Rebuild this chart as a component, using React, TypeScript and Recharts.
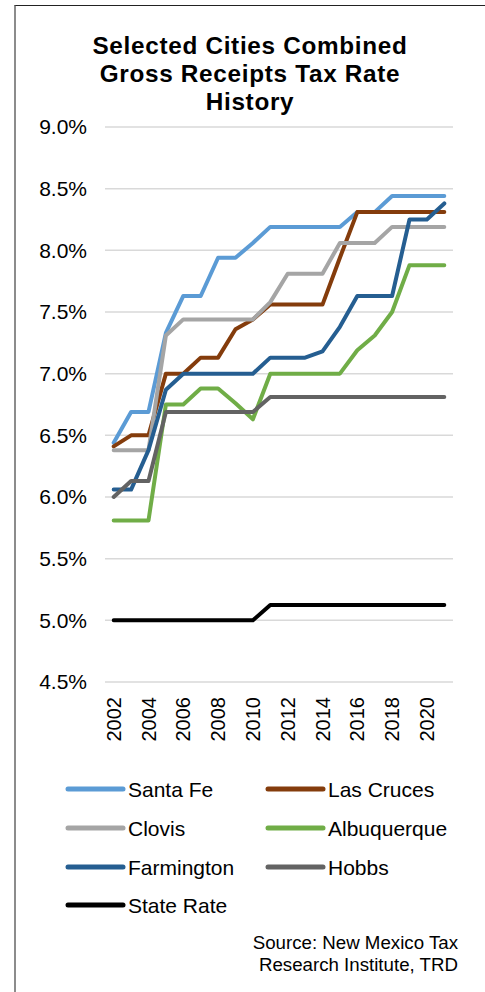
import React from 'react';
import { LineChart, Line, XAxis, YAxis, CartesianGrid } from 'recharts';

const years = [
    '2002', '2003', '2004', '2005', '2006', '2007', '2008', '2009', '2010', '2011',
    '2012', '2013', '2014', '2015', '2016', '2017', '2018', '2019', '2020', '2021',
];

const santaFe = [6.44, 6.69, 6.69, 7.33, 7.63, 7.63, 7.94, 7.94, 8.06, 8.19, 8.19, 8.19, 8.19, 8.19, 8.31, 8.31, 8.44, 8.44, 8.44, 8.44];
const lasCruces = [6.41, 6.5, 6.5, 7.0, 7.0, 7.13, 7.13, 7.36, 7.44, 7.56, 7.56, 7.56, 7.56, 7.94, 8.31, 8.31, 8.31, 8.31, 8.31, 8.31];
const clovis = [6.38, 6.38, 6.38, 7.31, 7.44, 7.44, 7.44, 7.44, 7.44, 7.58, 7.81, 7.81, 7.81, 8.06, 8.06, 8.06, 8.19, 8.19, 8.19, 8.19];
const albuquerque = [5.81, 5.81, 5.81, 6.75, 6.75, 6.88, 6.88, 6.76, 6.63, 7.0, 7.0, 7.0, 7.0, 7.0, 7.19, 7.31, 7.5, 7.88, 7.88, 7.88];
const farmington = [6.06, 6.06, 6.38, 6.87, 7.0, 7.0, 7.0, 7.0, 7.0, 7.13, 7.13, 7.13, 7.18, 7.38, 7.63, 7.63, 7.63, 8.25, 8.25, 8.38];
const hobbs = [6.0, 6.13, 6.13, 6.69, 6.69, 6.69, 6.69, 6.69, 6.69, 6.81, 6.81, 6.81, 6.81, 6.81, 6.81, 6.81, 6.81, 6.81, 6.81, 6.81];
const stateRate = [5.0, 5.0, 5.0, 5.0, 5.0, 5.0, 5.0, 5.0, 5.0, 5.125, 5.125, 5.125, 5.125, 5.125, 5.125, 5.125, 5.125, 5.125, 5.125, 5.125];

const yTicks = [4.5, 5.0, 5.5, 6.0, 6.5, 7.0, 7.5, 8.0, 8.5, 9.0];

const titleLines = ['Selected Cities Combined', 'Gross Receipts Tax Rate', 'History'];
const sourceLines = ['Source: New Mexico Tax', 'Research Institute, TRD'];

const SERIES = [
    { key: 'santaFe', name: 'Santa Fe', color: '#5b9bd5', values: santaFe },
    { key: 'lasCruces', name: 'Las Cruces', color: '#843c0c', values: lasCruces },
    { key: 'clovis', name: 'Clovis', color: '#a5a5a5', values: clovis },
    { key: 'albuquerque', name: 'Albuquerque', color: '#70ad47', values: albuquerque },
    { key: 'farmington', name: 'Farmington', color: '#255e91', values: farmington },
    { key: 'hobbs', name: 'Hobbs', color: '#636363', values: hobbs },
    { key: 'stateRate', name: 'State Rate', color: '#000000', values: stateRate },
];

const FONT = '"Liberation Sans", Arial, sans-serif';

const data = years.map((year, i) => {
    const row: any = { year };
    SERIES.forEach((s) => {
        row[s.key] = s.values[i];
    });
    return row;
});

// rotated year labels, reading bottom to top
const YearTick = ({ x, y, payload }: any) => (
    <text
        x={x}
        y={y}
        transform={`rotate(-90, ${x}, ${y})`}
        textAnchor="end"
        dominantBaseline="central"
        fontSize={20}
        fill="#000"
        fontFamily={FONT}
    >
        {payload.value}
    </text>
);

export default function App() {
    // legend layout: two columns, rows top to bottom
    const legendCols = [68, 268];
    const legendRows = [789, 828, 867, 905];

    return (
        <div
            style={{
                position: 'absolute',
                left: 0,
                top: 0,
                width: 485,
                height: 992,
                background: '#fff',
                fontFamily: FONT,
                overflow: 'hidden',
            }}
        >
            <div
                style={{
                    position: 'absolute',
                    left: 14,
                    top: 5,
                    width: 469,
                    height: 1000,
                    borderLeft: '2px solid #8c8c8c',
                    borderTop: '1px solid #222',
                    borderRight: '1px solid #444',
                }}
            />

            <div style={{ position: 'absolute', left: 0, top: 0 }}>
                <LineChart
                    width={485}
                    height={760}
                    data={data}
                    margin={{ top: 127, right: 32, left: 0, bottom: 18 }}
                >
                    <CartesianGrid vertical={false} stroke="#d9d9d9" strokeWidth={1.5} />
                    <XAxis
                        dataKey="year"
                        interval={1}
                        height={60}
                        axisLine={false}
                        tickLine={false}
                        tickSize={0}
                        tickMargin={15}
                        padding={{ left: 8.7, right: 8.7 }}
                        tick={<YearTick />}
                    />
                    <YAxis
                        width={105}
                        domain={[4.5, 9]}
                        ticks={yTicks}
                        axisLine={false}
                        tickLine={false}
                        tickSize={0}
                        tickMargin={18}
                        tick={{ fontSize: 21, fill: '#000', fontFamily: FONT }}
                        tickFormatter={(v) => `${Number(v).toFixed(1)}%`}
                    />
                    {SERIES.map((s) => (
                        <Line
                            key={s.key}
                            type="linear"
                            dataKey={s.key}
                            name={s.name}
                            stroke={s.color}
                            strokeWidth={4}
                            strokeLinejoin="round"
                            strokeLinecap="round"
                            dot={false}
                            activeDot={false}
                            isAnimationActive={false}
                        />
                    ))}
                </LineChart>
            </div>

            <svg
                width={485}
                height={992}
                style={{ position: 'absolute', left: 0, top: 0, pointerEvents: 'none' }}
            >
                {titleLines.map((t, i) => (
                    <text
                        key={t}
                        x={250}
                        y={54 + i * 28}
                        textAnchor="middle"
                        fontSize={24.3}
                        fontWeight="bold"
                        letterSpacing={0.7}
                        fill="#000"
                        fontFamily={FONT}
                    >
                        {t}
                    </text>
                ))}
                {SERIES.map((s, i) => {
                    const lx = legendCols[i % 2];
                    const ly = legendRows[Math.floor(i / 2)];
                    return (
                        <g key={s.key}>
                            <line
                                x1={lx}
                                y1={ly}
                                x2={lx + 55}
                                y2={ly}
                                stroke={s.color}
                                strokeWidth={5}
                                strokeLinecap="round"
                            />
                            <text x={lx + 60} y={ly + 7.5} fontSize={21} fill="#000" fontFamily={FONT}>
                                {s.name}
                            </text>
                        </g>
                    );
                })}
                {sourceLines.map((t, i) => (
                    <text
                        key={t}
                        x={458}
                        y={949 + i * 22}
                        textAnchor="end"
                        fontSize={18.7}
                        fill="#000"
                        fontFamily={FONT}
                    >
                        {t}
                    </text>
                ))}
            </svg>
        </div>
    );
}
